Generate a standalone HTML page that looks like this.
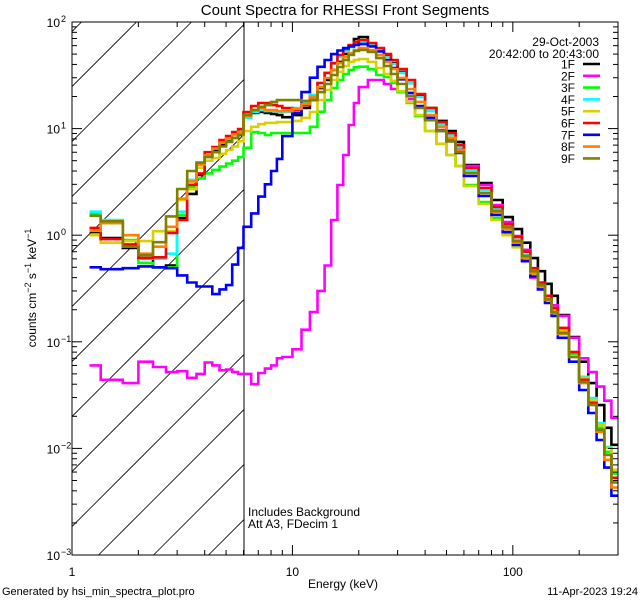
<!DOCTYPE html>
<html><head><meta charset="utf-8">
<style>
html,body{margin:0;padding:0;background:#fff;}
svg{display:block;font-family:"Liberation Sans","DejaVu Sans",sans-serif;}
text{fill:#000;}
</style></head>
<body>
<svg id="chart" width="640" height="600" viewBox="0 0 640 600" xmlns="http://www.w3.org/2000/svg">
  <rect x="0" y="0" width="640" height="600" fill="#fff"/>
  <defs>
    <clipPath id="plotclip"><rect x="72" y="22" width="546" height="533"/></clipPath>
    <clipPath id="hatchclip"><rect x="72" y="22" width="172" height="533"/></clipPath>
  </defs>
  <text x="345" y="15" font-size="15" text-anchor="middle">Count Spectra for RHESSI Front Segments</text>
  <g id="hatch" clip-path="url(#hatchclip)"></g>
  <line x1="244" y1="22" x2="244" y2="555" stroke="#000" stroke-width="1"/>
  <g id="series" clip-path="url(#plotclip)"></g>
  <rect x="72" y="22" width="546" height="533" fill="none" stroke="#000" stroke-width="1"/>
  <g id="axes"></g>
  <text x="343" y="588" font-size="12" text-anchor="middle">Energy (keV)</text>
  <text transform="translate(36,288) rotate(-90)" font-size="12" text-anchor="middle">counts cm<tspan dy="-5" font-size="9">−2</tspan><tspan dy="5"> s</tspan><tspan dy="-5" font-size="9">−1</tspan><tspan dy="5"> keV</tspan><tspan dy="-5" font-size="9">−1</tspan></text>
  <text x="599" y="46" font-size="12" text-anchor="end">29-Oct-2003</text>
  <text x="599" y="58" font-size="12" text-anchor="end">20:42:00 to 20:43:00</text>
  <text x="248" y="516" font-size="12">Includes Background</text>
  <text x="248" y="528" font-size="12">Att A3, FDecim 1</text>
  <text x="2" y="595" font-size="11">Generated by hsi_min_spectra_plot.pro</text>
  <text x="638" y="595" font-size="11" text-anchor="end">11-Apr-2023 19:24</text>
  <g id="legend"></g>
</svg>
<script>
const energyEdges = [1.2,1.35,1.7,2.0,2.33,2.67,3.0,3.33,3.67,4.0,4.33,4.67,5.0,5.33,5.67,6.0,6.5,7,7.5,8,8.5,9,10,11,12,13,14,15,16,17,18,19,20,22,24,26,28,30,33,36,40,45,50,55,60,70,80,90,100,110,120,130,140,150,160,180,200,220,240,260,280,300];
const seriesNames = ["1F","2F","3F","4F","5F","6F","7F","8F","9F"];
const seriesColors = ["#000000","#ff00ff","#00ff00","#00ffff","#d8d000","#ff0000","#0000ff","#ff8000","#808000"];
const s1F = [1.07,0.94,0.76,0.61,0.50,0.52,1.45,2.44,3.67,5.5,6.3,7.0,7.65,8.2,8.7,13.4,14.0,14.3,14.0,13.7,13.4,12.8,13.4,15.6,18.5,24.0,28.6,35.5,42.2,50.1,59.6,69.3,72.3,62.2,54.6,48.0,41.2,34.0,26.8,20.2,15.6,11.8,9.5,7.5,4.55,3.09,2.14,1.48,1.14,0.85,0.61,0.46,0.35,0.27,0.178,0.111,0.065,0.041,0.0255,0.0156,0.0108];
const s2F = [0.060,0.044,0.041,0.065,0.058,0.052,0.053,0.046,0.050,0.064,0.060,0.054,0.055,0.052,0.050,0.050,0.040,0.051,0.056,0.060,0.070,0.072,0.085,0.13,0.19,0.30,0.52,1.39,2.96,5.65,10.8,17.4,24.5,28.6,28.6,26.2,23.5,22.0,19.0,16.0,12.6,9.7,8.0,6.4,4.45,2.96,1.92,1.33,0.98,0.73,0.40,0.33,0.26,0.22,0.175,0.109,0.07,0.052,0.038,0.028,0.0193];
const s3F = [1.6,1.3,0.9,0.55,0.50,0.50,1.55,2.85,3.4,3.8,4.1,4.4,4.7,5.0,5.4,6.6,9.3,9.1,8.7,9.1,9.1,9.1,9.1,9.1,10.4,14.4,18.5,24.0,28.6,32.5,35.5,37.6,38.1,36.0,31.8,30.5,26.8,22.0,17.4,13.1,9.5,7.2,5.65,4.45,2.96,2.05,1.45,1.05,0.81,0.60,0.45,0.34,0.258,0.195,0.126,0.077,0.045,0.0273,0.0156,0.0093,0.0058];
const s4F = [1.66,1.39,1.0,0.60,0.60,0.67,1.66,3.3,4.6,5.6,6.5,7.4,8.0,8.8,9.4,12.6,14.3,14.9,14.6,14.6,14.3,14.3,15.6,17.4,20.6,26.8,33.3,40.4,47.0,53.4,58.2,62.2,64.9,62.2,54.6,47.0,40.4,33.3,26.8,19.8,14.6,11.0,8.7,6.7,4.09,2.66,1.76,1.22,0.90,0.65,0.47,0.35,0.26,0.199,0.129,0.080,0.047,0.0297,0.0173,0.0103,0.0063];
const s5F = [1.0,0.85,0.88,0.88,1.09,1.09,2.14,2.7,4.3,5.0,5.3,5.8,6.3,6.8,7.6,9.5,10.4,11.0,11.3,11.3,11.5,11.5,11.8,12.6,14.3,18.5,23.0,28.6,34.0,38.7,42.2,44.0,45.0,42.2,37.0,32.5,28.0,22.5,17.8,13.4,9.5,7.2,5.65,4.45,2.89,1.96,1.39,1.0,0.77,0.57,0.43,0.33,0.25,0.195,0.129,0.080,0.046,0.0285,0.0166,0.0101,0.0063];
const s6F = [1.17,0.92,0.82,0.61,0.62,1.05,1.39,2.97,3.8,6.0,6.7,7.8,8.5,9.3,9.9,14.3,16.3,17.4,17.4,16.6,16.3,15.6,14.9,16.6,19.8,26.8,33.3,41.2,49.0,55.8,60.8,64.9,67.8,63.5,57.0,50.1,44.0,36.2,28.6,21.1,15.6,11.5,9.1,7.0,4.27,2.77,1.84,1.27,0.96,0.70,0.49,0.36,0.27,0.207,0.135,0.080,0.044,0.0267,0.0149,0.0087,0.0053];
const s7F = [0.50,0.48,0.49,0.51,0.50,0.49,0.42,0.36,0.33,0.33,0.28,0.31,0.34,0.53,0.76,1.2,1.6,2.3,3.0,4.0,5.2,8.5,14,22,30,38,44,50,54,57,59,61,62,59,53,44,37,29,21.6,16.3,12.6,9.5,7.6,5.9,3.59,2.33,1.55,1.07,0.81,0.57,0.41,0.31,0.231,0.175,0.109,0.065,0.0353,0.0215,0.0120,0.0066,0.0036];
const s8F = [1.1,1.3,1.0,0.67,0.78,1.2,2.2,3.2,4.6,5.6,6.5,7.4,8.1,8.8,9.3,13.1,14.9,15.6,14.9,14.9,14.6,14.6,15.3,17.0,19.8,24.5,29.8,35.5,41.2,47.0,51.2,54.6,57.0,54.6,49.0,42.2,36.2,29.8,23.5,17.8,13.4,10.4,8.2,6.3,3.84,2.49,1.65,1.14,0.85,0.61,0.44,0.33,0.247,0.186,0.118,0.072,0.041,0.0256,0.0143,0.0078,0.0043];
const s9F = [1.52,1.35,0.78,0.65,0.86,1.5,2.71,4.0,4.8,5.4,6.0,6.8,7.5,8.2,8.8,13.4,14.9,16.0,16.6,17.8,18.5,18.5,18.5,18.2,18.5,22.0,26.2,31.8,37.8,44.0,49.0,53.4,54.6,52.3,45.9,38.7,32.5,26.2,20.2,15.6,12.0,9.5,7.6,6.0,3.84,2.49,1.69,1.19,0.88,0.64,0.46,0.34,0.25,0.19,0.121,0.072,0.042,0.0256,0.0149,0.0087,0.0048];
const seriesValues = [s1F,s2F,s3F,s4F,s5F,s6F,s7F,s8F,s9F];
const xTickValues = [1,10,100];
const xTickLabels = ["1","10","100"];
const yTickExponents = [-3,-2,-1,0,1,2];

const NS = "http://www.w3.org/2000/svg";
const PL = 72, PR = 618, PT = 22, PB = 555;
const XMIN = 1, XMAX = 300, YMIN = -3, YMAX = 2;
function xs(e){ return PL + (Math.log10(e) - Math.log10(XMIN)) / (Math.log10(XMAX) - Math.log10(XMIN)) * (PR - PL); }
function ys(v){ return PT + (YMAX - Math.log10(v)) / (YMAX - YMIN) * (PB - PT); }
function mk(tag, attrs, parent){ const el = document.createElementNS(NS, tag); for (const k in attrs) el.setAttribute(k, attrs[k]); parent.appendChild(el); return el; }

// hatch
const hatch = document.getElementById('hatch');
for (let k = -12; k < 4; k++) {
  const x0 = 98.5 + k * 55;
  const ln = mk('line', {x1: x0, y1: PB, x2: x0 + (PB - PT), y2: PT, stroke: '#000', 'stroke-width': 0.8}, hatch);
  
  
}

// axes ticks
const axes = document.getElementById('axes');
for (let d = 0; d <= 2; d++) {
  for (let m = 1; m <= 9; m++) {
    const e = m * Math.pow(10, d);
    if (e > XMAX) break;
    const x = xs(e);
    const len = m === 1 ? 10 : 5;
    const t1 = mk('line', {x1: x, y1: PB, x2: x, y2: PB - len, stroke: '#000', 'stroke-width': 1}, axes);
    
    
    const t2 = mk('line', {x1: x, y1: PT, x2: x, y2: PT + len, stroke: '#000', 'stroke-width': 1}, axes);
    
    
  }
}
xTickValues.forEach((v, i) => {
  const t = mk('text', {x: xs(v), y: 576, 'font-size': 12, 'text-anchor': 'middle'}, axes);
  t.textContent = xTickLabels[i];
  
  
});
for (let p = YMIN; p <= YMAX; p++) {
  for (let m = 1; m <= 9; m++) {
    const v = m * Math.pow(10, p);
    if (p === YMAX && m > 1) break;
    const y = ys(v);
    const len = m === 1 ? 10 : 5;
    const a = mk('line', {x1: PL, y1: y, x2: PL + len, y2: y, stroke: '#000', 'stroke-width': 1}, axes);
    
    
    const b = mk('line', {x1: PR, y1: y, x2: PR - len, y2: y, stroke: '#000', 'stroke-width': 1}, axes);
    
    
  }
}
yTickExponents.forEach(p => {
  const t = mk('text', {x: 60, y: ys(Math.pow(10, p)) + 5, 'font-size': 12, 'text-anchor': 'end'}, axes);
  t.textContent = '10';
  const sup = mk('tspan', {x: 61, dy: -5, 'font-size': 9, 'text-anchor': 'start'}, t);
  sup.textContent = p < 0 ? '−' + (-p) : String(p);
  
  
});

// series
const sg = document.getElementById('series');
seriesValues.forEach((vals, si) => {
  let d = '';
  const n = Math.min(vals.length, energyEdges.length - 1);
  for (let i = 0; i < n; i++) {
    const x1 = xs(energyEdges[i]), x2 = xs(energyEdges[i + 1]), y = ys(vals[i]);
    d += (i === 0 ? 'M' : 'L') + x1.toFixed(1) + ',' + y.toFixed(1) + 'L' + x2.toFixed(1) + ',' + y.toFixed(1);
  }
  const p = mk('path', {d: d, fill: 'none', stroke: seriesColors[si], 'stroke-width': 2.6, 'stroke-linejoin': 'miter'}, sg);
  
  
});

// legend
const lg = document.getElementById('legend');
seriesNames.forEach((nm, i) => {
  const y = 64 + i * 11.8;
  const t = mk('text', {x: 575, y: y + 4.5, 'font-size': 12, 'text-anchor': 'end'}, lg);
  t.textContent = nm;
  
  
  const l = mk('line', {x1: 583, y1: y, x2: 600, y2: y, stroke: seriesColors[i], 'stroke-width': 2.6}, lg);
  
  
});
</script>
</body></html>
